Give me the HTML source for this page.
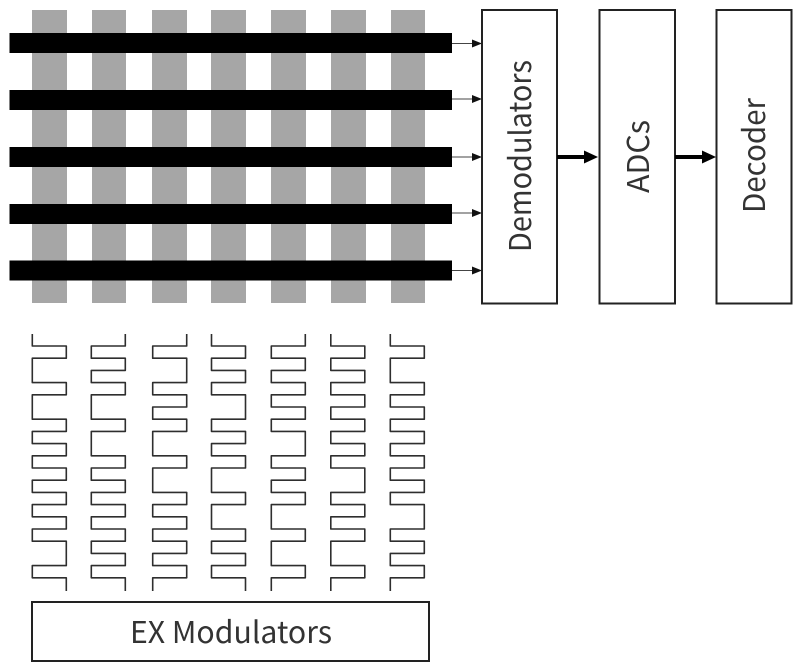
<!DOCTYPE html>
<html>
<head>
<meta charset="utf-8">
<style>
html,body{margin:0;padding:0;background:#fff;}
svg{display:block;filter:blur(0.3px);}
text{font-family:"Noto Sans CJK KR","Liberation Sans",sans-serif;fill:#333;font-size:30px;font-weight:400;}
.s{fill:none;stroke:#2e2e2e;stroke-width:1.6;stroke-linejoin:round;}
.b{fill:#fff;stroke:#222;stroke-width:2;}
</style>
</head>
<body>
<svg width="794" height="667" viewBox="0 0 794 667" xmlns="http://www.w3.org/2000/svg">
<rect width="794" height="667" fill="#fff"/>
<g fill="#a6a6a6">
<rect x="32" y="10" width="35" height="293"/>
<rect x="92" y="10" width="34" height="293"/>
<rect x="152" y="10" width="35" height="293"/>
<rect x="211" y="10" width="35" height="293"/>
<rect x="271" y="10" width="35" height="293"/>
<rect x="331" y="10" width="35" height="293"/>
<rect x="391" y="10" width="34" height="293"/>
</g>
<g fill="#000">
<rect x="9.5" y="33" width="442.5" height="20"/>
<rect x="9.5" y="90" width="442.5" height="20"/>
<rect x="9.5" y="147" width="442.5" height="20"/>
<rect x="9.5" y="204" width="442.5" height="20"/>
<rect x="9.5" y="260.5" width="442.5" height="20"/>
</g>
<g stroke="#444" stroke-width="1">
<line x1="452" y1="43.5" x2="473" y2="43.5"/>
<line x1="452" y1="99" x2="473" y2="99"/>
<line x1="452" y1="157" x2="473" y2="157"/>
<line x1="452" y1="213" x2="473" y2="213"/>
<line x1="452" y1="270.5" x2="473" y2="270.5"/>
</g>
<g fill="#111">
<polygon points="472,39.5 482,43.5 472,47.5"/>
<polygon points="472,95 482,99 472,103"/>
<polygon points="472,153 482,157 472,161"/>
<polygon points="472,209 482,213 472,217"/>
<polygon points="472,266.5 482,270.5 472,274.5"/>
</g>
<rect class="b" x="482" y="10" width="75" height="293.5"/>
<rect class="b" x="599.5" y="10" width="75.5" height="293.5"/>
<rect class="b" x="716.5" y="10" width="75" height="293.5"/>
<g fill="#000">
<rect x="557" y="155" width="30" height="4"/>
<polygon points="584,150.5 598,157 584,163.5"/>
<rect x="675" y="155" width="30" height="4"/>
<polygon points="702,150.5 716,157 702,163.5"/>
</g>
<text transform="translate(531 252) rotate(-90)" textLength="192" lengthAdjust="spacingAndGlyphs">Demodulators</text>
<text transform="translate(649 193) rotate(-90)" textLength="73" lengthAdjust="spacingAndGlyphs">ADCs</text>
<text transform="translate(765 213) rotate(-90)" textLength="115" lengthAdjust="spacingAndGlyphs">Decoder</text>
<path class="s" d="M32.3 334V346h34V358.2h-34V382.6h34V394.8h-34V419.2h34V431.4h-34V443.6h34V455.8h-34V468h34V480.2h-34V492.4h34V504.6h-34V516.8h34V529h-34V541.2h34V565.6h-34V577.8h34V591"/>
<path class="s" d="M125.3 334V346h-34V358.2h34V370.4h-34V382.6h34V394.8h-34V419.2h34V431.4h-34V455.8h34V468h-34V480.2h34V492.4h-34V504.6h34V516.8h-34V529h34V541.2h-34V553.4h34V565.6h-34V577.8h34V591"/>
<path class="s" d="M186.7 334V346h-34V358.2h34V382.6h-34V394.8h34V407h-34V419.2h34V431.4h-34V455.8h34V468h-34V492.4h34V504.6h-34V516.8h34V529h-34V541.2h34V553.4h-34V565.6h34V577.8h-34V591"/>
<path class="s" d="M211.5 334V346h34V358.2h-34V370.4h34V382.6h-34V394.8h34V419.2h-34V431.4h34V443.6h-34V455.8h34V468h-34V492.4h34V504.6h-34V529h34V541.2h-34V553.4h34V565.6h-34V577.8h34V591"/>
<path class="s" d="M305.3 334V346h-34V358.2h34V370.4h-34V382.6h34V394.8h-34V407h34V419.2h-34V431.4h34V455.8h-34V468h34V480.2h-34V492.4h34V504.6h-34V529h34V541.2h-34V565.6h34V577.8h-34V591"/>
<path class="s" d="M330.8 334V346h34V358.2h-34V370.4h34V382.6h-34V394.8h34V407h-34V419.2h34V431.4h-34V443.6h34V455.8h-34V468h34V492.4h-34V504.6h34V516.8h-34V529h34V541.2h-34V565.6h34V577.8h-34V591"/>
<path class="s" d="M390.3 334V346h34V358.2h-34V382.6h34V394.8h-34V407h34V419.2h-34V431.4h34V443.6h-34V455.8h34V468h-34V480.2h34V492.4h-34V504.6h34V529h-34V541.2h34V553.4h-34V565.6h34V577.8h-34V591"/>
<rect class="b" x="32" y="602" width="397" height="59"/>
<text x="130" y="643" textLength="202" lengthAdjust="spacingAndGlyphs">EX Modulators</text>
</svg>
</body>
</html>
